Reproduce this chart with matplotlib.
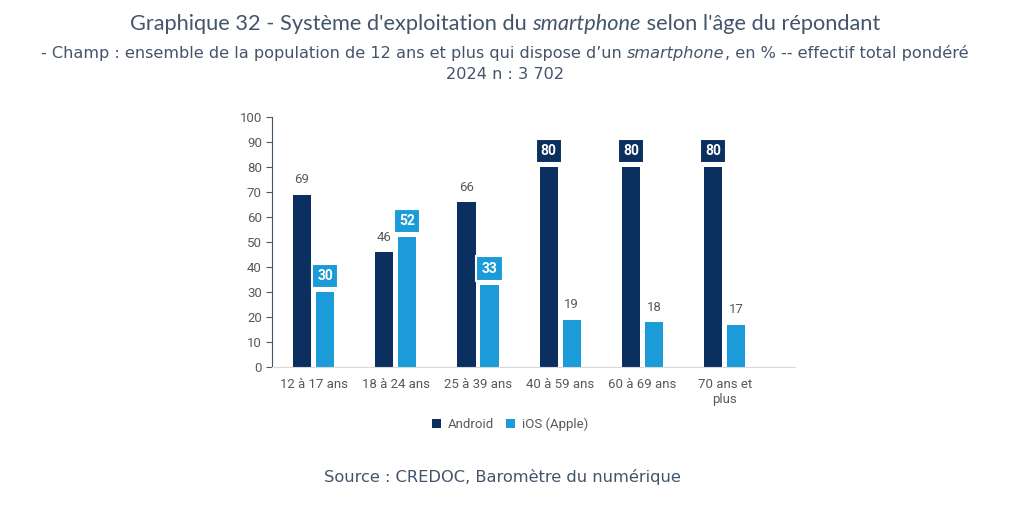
import matplotlib.pyplot as plt
import numpy as np

# data
categories = ["12 à 17 ans", "18 à 24 ans", "25 à 39 ans", "40 à 59 ans", "60 à 69 ans", "70 ans et\nplus"]
android = [69, 46, 66, 80, 80, 80]
ios = [30, 52, 33, 19, 18, 17]
android_boxed = [False, False, False, True, True, True]
ios_boxed = [True, True, True, False, False, False]

navy = "#0b2f5e"
blue = "#1b9bd7"
grey = "#595959"
title_col = "#44546a"

plt.rcParams["font.family"] = "Roboto"

fig = plt.figure(figsize=(10.24, 5.05), dpi=100)
ax = fig.add_axes([0.266, 0.273, 0.51, 0.495])

x = np.arange(len(categories))
w = 0.22
off = 0.14
b1 = ax.bar(x - off, android, w, color=navy, label="Android")
b2 = ax.bar(x + off, ios, w, color=blue, label="iOS (Apple)")

def add_labels(bars, vals, boxed, col):
    for rect, v, bx in zip(bars, vals, boxed):
        cx = rect.get_x() + rect.get_width() / 2
        if bx:
            ax.text(cx, v + 6.4, str(v), ha="center", va="center", fontsize=10,
                    color="white", fontweight="bold",
                    bbox=dict(boxstyle="square,pad=0.38", fc=col, ec="white", lw=1.5))
        else:
            ax.text(cx, v + 6, str(v), ha="center", va="center", fontsize=9.5, color=grey)

add_labels(b1, android, android_boxed, navy)
add_labels(b2, ios, ios_boxed, blue)

ax.set_ylim(0, 100)
ax.set_xlim(-0.5, 5.85)
ax.set_yticks(range(0, 101, 10))
ax.set_xticks(x)
ax.set_xticklabels(categories)
ax.tick_params(axis="y", colors=grey, labelsize=9.5, length=4, direction="out")
ax.tick_params(axis="x", colors=grey, labelsize=9.5, length=0, pad=8)
ax.spines["left"].set_color("#44546a")
ax.spines["bottom"].set_color("#d9d9d9")
ax.spines["top"].set_visible(False)
ax.spines["right"].set_visible(False)

ax.legend(loc="upper center", bbox_to_anchor=(0.455, -0.155), ncol=2, frameon=False,
          fontsize=9.5, handlelength=0.7, handleheight=0.7, columnspacing=0.9,
          handletextpad=0.5, labelcolor=grey)


def mixed_text(xc, y, parts, **kw):
    # draw a centred line made of (text, style) pieces
    r = fig.canvas.get_renderer()
    objs = []
    for s, st in parts:
        objs.append(fig.text(0, y, s, style=st, va="center", ha="left", **kw))
    widths = [t.get_window_extent(r).width for t in objs]
    total = sum(widths)
    xpix = xc * fig.bbox.width - total / 2
    for t, wd in zip(objs, widths):
        t.set_x(xpix / fig.bbox.width)
        xpix += wd


mixed_text(0.493, 0.952, [("Graphique 32 - Système d'exploitation du ", "normal"),
                          ("smartphone", "italic"),
                          (" selon l'âge du répondant", "normal")],
           fontsize=15.7, color=title_col, family="Lato")
mixed_text(0.493, 0.895, [("- Champ : ensemble de la population de 12 ans et plus qui dispose d\u2019un ", "normal"),
                          ("smartphone", "italic"),
                          (", en % -- effectif total pondéré", "normal")],
           fontsize=11.6, color=title_col, family="DejaVu Sans")
fig.text(0.493, 0.853, "2024 n : 3 702", ha="center", va="center", fontsize=11.6,
         color=title_col, family="DejaVu Sans")
fig.text(0.491, 0.055, "Source : CREDOC, Baromètre du numérique", ha="center", va="center",
         fontsize=11.7, color=title_col, family="DejaVu Sans")

fig.savefig("out.png", dpi=100, facecolor="white")
